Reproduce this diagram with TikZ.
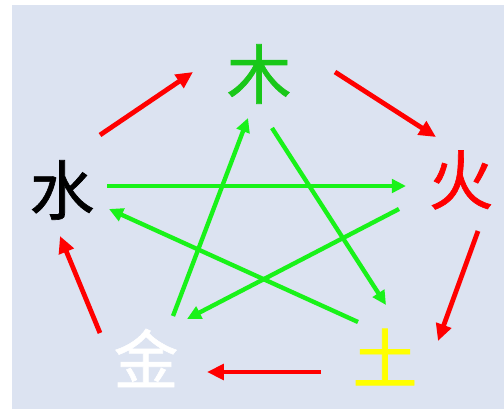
\documentclass[tikz,border=0pt]{standalone}
\usepackage{fontspec}
\newfontfamily\cjk[FakeBold=1]{Noto Sans CJK SC}
\definecolor{paleblue}{rgb}{0.863,0.890,0.945}
\definecolor{firered}{rgb}{1.00,0.00,0.00}
\definecolor{woodgreen}{rgb}{0.10,0.78,0.10}
\definecolor{limegreen}{rgb}{0.10,0.95,0.10}
\definecolor{earthyellow}{rgb}{1.00,1.00,0.00}
\usetikzlibrary{arrows.meta}

\begin{document}
\begin{tikzpicture}[x=0.025cm,y=-0.025cm,
    elem/.style={font=\cjk\fontsize{46}{46}\selectfont,inner sep=0pt},
    redarr/.style={-{Triangle[length=12pt,width=11pt]},line width=3.4pt,draw=firered},
    greenarr/.style={-{Triangle[length=10pt,width=9.5pt]},line width=3.1pt,draw=limegreen}]
        \useasboundingbox (0,0) rectangle (504,409);
        \fill[paleblue] (12,5) rectangle (504,409);
        % the five elements
        \node[elem,text=woodgreen] (mu) at (259,74) {木};
        \node[elem,text=firered] (huo) at (461,180) {火};
        \node[elem,text=earthyellow] (tu) at (385,357) {土};
        \node[elem,text=white] (jin) at (146,358) {金};
        \node[elem,text=black] (shui) at (62,190) {水};
        % arrow ends
        \coordinate (shui-mu) at (100,135);   \coordinate (mu-shui) at (193,72);
        \coordinate (mu-huo) at (335,72);     \coordinate (huo-mu) at (436,137);
        \coordinate (huo-tu) at (478,231);    \coordinate (tu-huo) at (438,341);
        \coordinate (tu-jin) at (321,372);    \coordinate (jin-tu) at (207,372);
        \coordinate (jin-shui) at (100,333);  \coordinate (shui-jin) at (60,236);
        \coordinate (shui-huo) at (107,186);  \coordinate (huo-shui) at (406,186);
        \coordinate (huo-jin) at (399,209);   \coordinate (jin-huo) at (187,319);
        \coordinate (jin-mu) at (173,316);    \coordinate (mu-jin) at (248,118);
        \coordinate (mu-tu) at (272,128);     \coordinate (tu-mu) at (386,305);
        \coordinate (tu-shui) at (358,322);   \coordinate (shui-tu) at (109,209);
        % generating cycle
        \draw[redarr] (shui-mu)--(mu-shui);
        \draw[redarr] (mu-huo)--(huo-mu);
        \draw[redarr] (huo-tu)--(tu-huo);
        \draw[redarr] (tu-jin)--(jin-tu);
        \draw[redarr] (jin-shui)--(shui-jin);
        % overcoming star
        \draw[greenarr] (shui-huo)--(huo-shui);
        \draw[greenarr] (huo-jin)--(jin-huo);
        \draw[greenarr] (jin-mu)--(mu-jin);
        \draw[greenarr] (mu-tu)--(tu-mu);
        \draw[greenarr] (tu-shui)--(shui-tu);
      \end{tikzpicture}
\end{document}
